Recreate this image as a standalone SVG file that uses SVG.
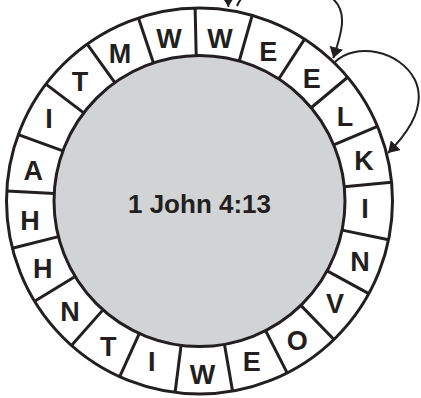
<svg xmlns="http://www.w3.org/2000/svg" width="421" height="398" viewBox="0 0 421 398">
<style>
.ring{fill:#ffffff;stroke:#231f20;stroke-width:3}
.core{fill:#d1d3d4;stroke:#231f20;stroke-width:3}
.div{stroke:#231f20;stroke-width:3}
.let{font-family:"Liberation Sans",Arial,Helvetica,sans-serif;font-weight:bold;font-size:27px;fill:#231f20;text-anchor:middle}
.title{font-family:"Liberation Sans",Arial,Helvetica,sans-serif;font-weight:bold;font-size:26px;fill:#231f20;text-anchor:middle}
.arr{fill:none;stroke:#231f20;stroke-width:2}
</style>
<defs>
<marker id="ah" viewBox="0 0 11 14" refX="11" refY="7" markerWidth="11" markerHeight="14" markerUnits="userSpaceOnUse" orient="auto">
<path d="M0,0 L11,7 L0,14 z" fill="#231f20"/>
</marker>
</defs>
<g id="wheel" transform="translate(199.5,201)">
<circle class="ring" r="193"/>
<circle class="core" r="145.5"/>
<g id="dividers">
<line class="div" x1="0" y1="-145.5" x2="0" y2="-193" transform="rotate(-1.3)"/>
<line class="div" x1="0" y1="-145.5" x2="0" y2="-193" transform="rotate(15.843)"/>
<line class="div" x1="0" y1="-145.5" x2="0" y2="-193" transform="rotate(32.986)"/>
<line class="div" x1="0" y1="-145.5" x2="0" y2="-193" transform="rotate(50.129)"/>
<line class="div" x1="0" y1="-145.5" x2="0" y2="-193" transform="rotate(67.271)"/>
<line class="div" x1="0" y1="-145.5" x2="0" y2="-193" transform="rotate(84.414)"/>
<line class="div" x1="0" y1="-145.5" x2="0" y2="-193" transform="rotate(101.557)"/>
<line class="div" x1="0" y1="-145.5" x2="0" y2="-193" transform="rotate(118.7)"/>
<line class="div" x1="0" y1="-145.5" x2="0" y2="-193" transform="rotate(135.843)"/>
<line class="div" x1="0" y1="-145.5" x2="0" y2="-193" transform="rotate(152.986)"/>
<line class="div" x1="0" y1="-145.5" x2="0" y2="-193" transform="rotate(170.129)"/>
<line class="div" x1="0" y1="-145.5" x2="0" y2="-193" transform="rotate(187.271)"/>
<line class="div" x1="0" y1="-145.5" x2="0" y2="-193" transform="rotate(204.414)"/>
<line class="div" x1="0" y1="-145.5" x2="0" y2="-193" transform="rotate(221.557)"/>
<line class="div" x1="0" y1="-145.5" x2="0" y2="-193" transform="rotate(238.7)"/>
<line class="div" x1="0" y1="-145.5" x2="0" y2="-193" transform="rotate(255.843)"/>
<line class="div" x1="0" y1="-145.5" x2="0" y2="-193" transform="rotate(272.986)"/>
<line class="div" x1="0" y1="-145.5" x2="0" y2="-193" transform="rotate(290.129)"/>
<line class="div" x1="0" y1="-145.5" x2="0" y2="-193" transform="rotate(307.271)"/>
<line class="div" x1="0" y1="-145.5" x2="0" y2="-193" transform="rotate(324.414)"/>
<line class="div" x1="0" y1="-145.5" x2="0" y2="-193" transform="rotate(341.557)"/>
</g>
</g>
<g id="center"><text class="title" x="199.5" y="213">1 John 4:13</text></g>
<g id="s01"><text class="let" x="120" y="63">M</text></g>
<g id="s02"><text class="let" x="169" y="48">W</text></g>
<g id="s03"><text class="let" x="220" y="48">W</text></g>
<g id="s04"><text class="let" x="268.3" y="61.4">E</text></g>
<g id="s05"><text class="let" x="311.7" y="88">E</text></g>
<g id="s06"><text class="let" x="345" y="126.4">L</text></g>
<g id="s07"><text class="let" x="364" y="169.7">K</text></g>
<g id="s08"><text class="let" x="365" y="218">I</text></g>
<g id="s09"><text class="let" x="360" y="271.4">N</text></g>
<g id="s10"><text class="let" x="335" y="313">V</text></g>
<g id="s11"><text class="let" x="297.3" y="349.7">O</text></g>
<g id="s12"><text class="let" x="251.7" y="371.4">E</text></g>
<g id="s13"><text class="let" x="202.5" y="383.7">W</text></g>
<g id="s14"><text class="let" x="151.7" y="371.4">I</text></g>
<g id="s15"><text class="let" x="108.3" y="356.4">T</text></g>
<g id="s16"><text class="let" x="70" y="321.4">N</text></g>
<g id="s17"><text class="let" x="42.7" y="278">H</text></g>
<g id="s18"><text class="let" x="30" y="229.7">H</text></g>
<g id="s19"><text class="let" x="33.3" y="180.4">A</text></g>
<g id="s20"><text class="let" x="49" y="127.7">I</text></g>
<g id="s21"><text class="let" x="80" y="91.4">T</text></g>
<g id="connectors">
<path class="arr" d="M150,-40 C200,-50 228,-30 228.3,6.7" marker-end="url(#ah)"/>
<path class="arr" d="M237,6 C252,-30 318,-16 334,0 C350,15 338,42 333.3,58.3" marker-end="url(#ah)"/>
<path class="arr" d="M335,62 C355,42 400,50 415,80 C428,108 405,136 388,153" marker-end="url(#ah)"/>
</g>
</svg>
